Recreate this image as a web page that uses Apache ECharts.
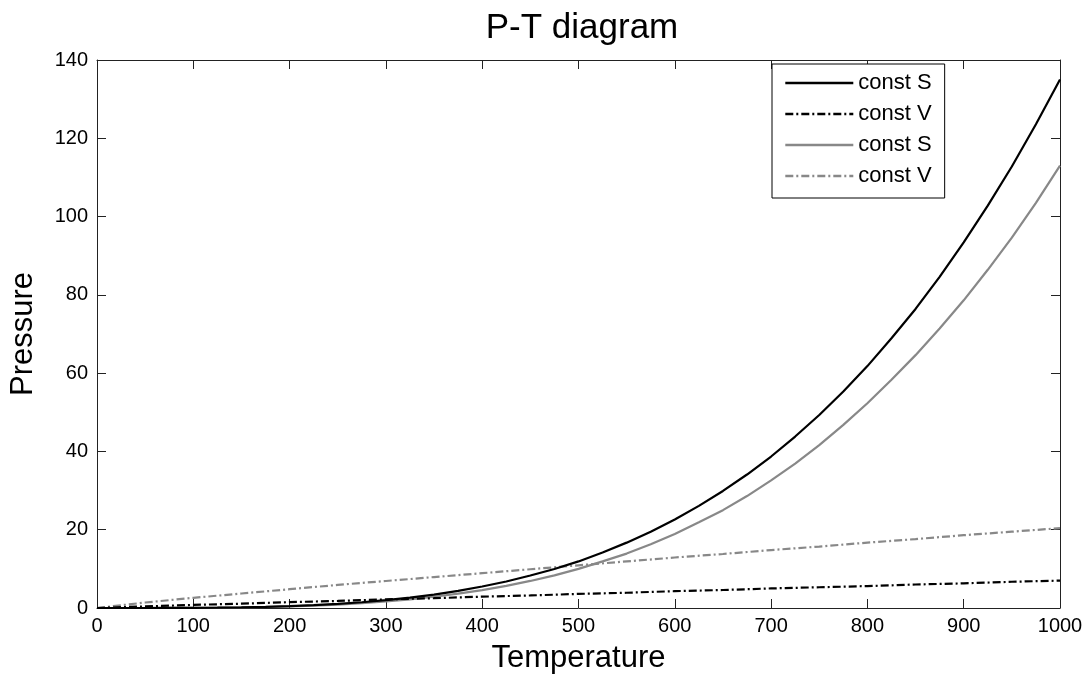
<!DOCTYPE html>
<html>
<head>
<meta charset="utf-8">
<script src="https://cdn.jsdelivr.net/npm/echarts@6/dist/echarts.min.js"></script>
<style>
html,body{margin:0;padding:0;background:#fff;}
#chart{width:1089px;height:679px;}
</style>
</head>
<body>
<div id="chart"></div>
<script>
// Temperature samples for the const-S curves (finer, they bend strongly)
var temperatureS = [0,25,50,75,100,125,150,175,200,225,250,275,300,325,350,375,400,425,450,475,500,
                    525,550,575,600,625,650,675,700,725,750,775,800,825,850,875,900,925,950,975,1000];
// const S (black)
var constS_black = [0,0,0,0.02,0.04,0.09,0.18,0.30,0.48,0.73,1.05,1.47,2.0,2.64,3.4,4.36,5.5,6.76,8.3,9.97,11.9,
                    14.2,16.7,19.5,22.6,26.1,29.9,34.1,38.7,43.8,49.3,55.3,61.8,68.9,76.4,84.6,93.4,102.8,112.8,123.6,135];
// const S (gray)
var constS_gray = [0,0,0,0.02,0.04,0.08,0.15,0.25,0.40,0.61,0.88,1.23,1.67,2.21,2.87,3.65,4.57,5.66,6.91,8.34,10.0,
                   11.9,13.9,16.3,18.9,21.9,25.0,28.6,32.6,36.9,41.6,46.8,52.3,58.3,64.6,71.4,78.6,86.4,94.6,103.5,113];
// Temperature samples for the const-V lines
var temperatureV = [0,50,100,150,200,250,300,350,400,450,500,550,600,650,700,750,800,850,900,950,1000];
// const V (black)
var constV_black = [0,0.4,0.8,1.1,1.5,1.8,2.2,2.5,2.9,3.2,3.6,3.9,4.3,4.6,5.0,5.3,5.6,6.0,6.3,6.7,7.0];
// const V (gray)
var constV_gray = [0,1.4,2.6,3.7,4.8,5.9,6.9,7.9,8.9,9.9,10.9,11.9,12.9,13.8,14.8,15.7,16.7,17.6,18.6,19.5,20.4];
var xTicks = {min:0, max:1000, interval:100};
var yTicks = {min:0, max:140, interval:20};
var seriesIds = ['S_black','V_black','S_gray','V_gray'];
var legendLabels = {S_black:'const S', V_black:'const V', S_gray:'const S', V_gray:'const V'};

function pairs(ts, ys){ return ts.map(function(t,i){ return [t, ys[i]]; }); }

var FONT = '"Liberation Sans", Arial, sans-serif';
var AX = '#222';
var chart = echarts.init(document.getElementById('chart'), null, {renderer:'canvas'});

function axisBase(extra){
  return Object.assign({
    type:'value',
    axisLine:{show:true, onZero:false, lineStyle:{color:AX, width:1}},
    axisTick:{show:true, inside:true, length:9, lineStyle:{color:AX, width:1}},
    splitLine:{show:false},
    axisLabel:{show:true, color:'#000', fontSize:20, fontFamily:FONT}
  }, extra);
}

var dashDot = [8,3,2,3];
function plain(v){ return String(v); }

chart.setOption({
  animation:false,
  backgroundColor:'#fff',
  title:{
    text:'P-T diagram', left:577, top:6, textAlign:'center',
    textStyle:{fontSize:35, fontWeight:'normal', color:'#000', fontFamily:FONT}
  },
  grid:{left:95, right:29, top:60, bottom:70, show:false},
  legend:{
    orient:'vertical', left:772, top:64,
    padding:[8,13,11,12],
    backgroundColor:'#fff', borderColor:'#000', borderWidth:1,
    itemWidth:68, itemHeight:14, itemGap:9,
    itemStyle:{opacity:0},
    lineStyle:{width:2.6},
    textStyle:{fontSize:22, color:'#000', fontFamily:FONT, lineHeight:22},
    formatter:function(name){ return legendLabels[name]; },
    data:seriesIds
  },
  xAxis:[
    axisBase({min:xTicks.min, max:xTicks.max, interval:xTicks.interval, position:'bottom',
      name:'Temperature', nameLocation:'middle', nameGap:35,
      nameTextStyle:{fontSize:31, color:'#000', fontFamily:FONT},
      axisLabel:{show:true, color:'#000', fontSize:20, fontFamily:FONT, margin:8, formatter:plain}}),
    axisBase({min:xTicks.min, max:xTicks.max, interval:xTicks.interval, position:'top',
      axisLabel:{show:false}})
  ],
  yAxis:[
    axisBase({min:yTicks.min, max:yTicks.max, interval:yTicks.interval, position:'left',
      name:'Pressure', nameLocation:'middle', nameGap:58,
      nameTextStyle:{fontSize:31, color:'#000', fontFamily:FONT},
      axisLabel:{show:true, color:'#000', fontSize:20, fontFamily:FONT, margin:9, formatter:plain}}),
    axisBase({min:yTicks.min, max:yTicks.max, interval:yTicks.interval, position:'right',
      axisLabel:{show:false}})
  ],
  series:[
    {name:seriesIds[0], type:'line', data:pairs(temperatureS, constS_black), symbol:'none', showSymbol:false,
      color:'#000', lineStyle:{color:'#000', width:2.2, type:'solid'}, z:4},
    {name:seriesIds[1], type:'line', data:pairs(temperatureV, constV_black), symbol:'none', showSymbol:false,
      color:'#000', lineStyle:{color:'#000', width:2.2, type:dashDot}, z:3},
    {name:seriesIds[2], type:'line', data:pairs(temperatureS, constS_gray), symbol:'none', showSymbol:false,
      color:'#888', lineStyle:{color:'#888', width:2.2, type:'solid'}, z:2},
    {name:seriesIds[3], type:'line', data:pairs(temperatureV, constV_gray), symbol:'none', showSymbol:false,
      color:'#888', lineStyle:{color:'#888', width:2.2, type:dashDot}, z:1}
  ]
});
</script>
</body>
</html>
